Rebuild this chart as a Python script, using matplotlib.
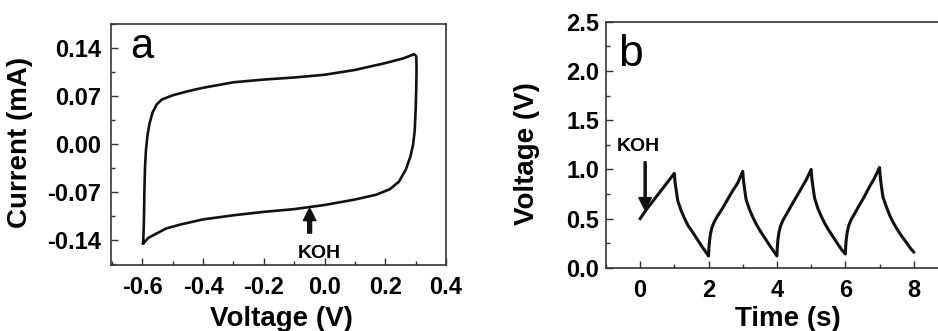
import matplotlib
matplotlib.use("Agg")
import matplotlib.pyplot as plt
from matplotlib.ticker import MultipleLocator

plt.rcParams['font.family'] = ['Liberation Sans', 'DejaVu Sans']

# panel a: cyclic voltammetry loop
cv_voltage = [-0.597, -0.595, -0.594, -0.593, -0.591, -0.588, -0.583, -0.576, -0.566,
              -0.552, -0.535, -0.50, -0.45, -0.40, -0.30, -0.20, -0.10, 0.00, 0.10,
              0.20, 0.26, 0.295, 0.302, 0.303, 0.302, 0.300, 0.297, 0.292, 0.283,
              0.268, 0.245, 0.215, 0.17, 0.10, 0.00, -0.10, -0.20, -0.30, -0.40,
              -0.47, -0.52, -0.555, -0.58, -0.597]
cv_current = [-0.145, -0.12, -0.10, -0.07, -0.035, -0.01, 0.012, 0.03, 0.046,
              0.058, 0.065, 0.071, 0.077, 0.082, 0.090, 0.094, 0.097, 0.101, 0.108,
              0.118, 0.125, 0.131, 0.128, 0.11, 0.08, 0.05, 0.02, 0.00, -0.018,
              -0.037, -0.055, -0.066, -0.074, -0.081, -0.089, -0.095, -0.099, -0.104, -0.110,
              -0.117, -0.123, -0.131, -0.137, -0.145]

# panel b: charge / discharge curve
gcd_time = [0.0, 0.2, 0.4, 0.6, 0.8, 1.0,
            1.02, 1.05, 1.1, 1.2, 1.3, 1.4, 1.5, 1.65, 1.8, 1.9, 2.0,
            2.01, 2.03, 2.06, 2.1, 2.17, 2.27, 2.4, 2.55, 2.7, 2.85, 3.0,
            3.02, 3.05, 3.1, 3.2, 3.3, 3.4, 3.5, 3.65, 3.8, 3.9, 4.0,
            4.01, 4.03, 4.06, 4.1, 4.17, 4.27, 4.4, 4.55, 4.7, 4.85, 5.0,
            5.02, 5.05, 5.1, 5.2, 5.3, 5.4, 5.5, 5.65, 5.8, 5.9, 6.0,
            6.01, 6.03, 6.06, 6.1, 6.17, 6.27, 6.4, 6.55, 6.7, 6.85, 7.0,
            7.02, 7.05, 7.1, 7.2, 7.3, 7.4, 7.5, 7.65, 7.8, 7.9, 8.0]
gcd_voltage = [0.50, 0.60, 0.69, 0.78, 0.87, 0.96,
               0.87, 0.80, 0.68, 0.58, 0.50, 0.43, 0.38, 0.30, 0.22, 0.17, 0.12,
               0.20, 0.28, 0.35, 0.41, 0.47, 0.53, 0.60, 0.69, 0.78, 0.86, 0.98,
               0.89, 0.81, 0.69, 0.59, 0.51, 0.44, 0.38, 0.30, 0.22, 0.17, 0.12,
               0.21, 0.29, 0.36, 0.42, 0.48, 0.54, 0.62, 0.71, 0.80, 0.89, 1.00,
               0.91, 0.83, 0.71, 0.60, 0.52, 0.45, 0.39, 0.31, 0.23, 0.18, 0.14,
               0.22, 0.30, 0.37, 0.43, 0.49, 0.55, 0.63, 0.72, 0.82, 0.91, 1.02,
               0.93, 0.84, 0.72, 0.62, 0.53, 0.46, 0.40, 0.32, 0.25, 0.20, 0.16]

a_xticks = [-0.6, -0.4, -0.2, 0.0, 0.2, 0.4]
a_xticklabels = ['-0.6', '-0.4', '-0.2', '0.0', '0.2', '0.4']
a_yticks = [-0.14, -0.07, 0.0, 0.07, 0.14]
a_yticklabels = ['-0.14', '-0.07', '0.00', '0.07', '0.14']
b_xticks = [0, 2, 4, 6, 8]
b_yticks = [0.0, 0.5, 1.0, 1.5, 2.0, 2.5]
b_yticklabels = ['0.0', '0.5', '1.0', '1.5', '2.0', '2.5']

spine_col = '#333333'
tick_fs = 17
label_fs = 20

fig = plt.figure(figsize=(9.38, 3.31), dpi=100)
ax_a = fig.add_axes([0.1183, 0.1994, 0.3572, 0.728])
ax_b = fig.add_axes([0.646, 0.191, 0.3646, 0.743])


def style_axes(ax):
    for s in ax.spines.values():
        s.set_color(spine_col)
        s.set_linewidth(1.2)
    ax.tick_params(which='both', direction='in', color=spine_col, width=1,
                   labelsize=tick_fs, top=False, right=False)
    ax.tick_params(which='major', length=5)
    ax.tick_params(which='minor', length=3)
    for lab in ax.get_xticklabels() + ax.get_yticklabels():
        lab.set_fontweight('bold')


# ---- panel a
ax_a.plot(cv_voltage, cv_current, color='#111111', lw=1.9)
ax_a.set_xlim(-0.703, 0.4)
ax_a.set_ylim(-0.1765, 0.175)
ax_a.set_xticks(a_xticks)
ax_a.set_xticklabels(a_xticklabels)
ax_a.set_yticks(a_yticks)
ax_a.set_yticklabels(a_yticklabels)
ax_a.xaxis.set_minor_locator(MultipleLocator(0.1))
ax_a.yaxis.set_minor_locator(MultipleLocator(0.035))
style_axes(ax_a)
ax_a.tick_params(axis='x', pad=8)
ax_a.tick_params(axis='y', pad=7)
ax_a.set_xlabel('Voltage (V)', fontsize=label_fs, fontweight='bold')
ax_a.set_ylabel('Current (mA)', fontsize=label_fs, fontweight='bold')
ax_a.xaxis.set_label_coords(0.51, -0.17)
ax_a.yaxis.set_label_coords(-0.233, 0.508)
ax_a.text(0.057, 0.858, 'a', transform=ax_a.transAxes, fontsize=30)
ax_a.annotate('', xy=(-0.049, -0.0935), xytext=(-0.049, -0.130),
              arrowprops=dict(facecolor='#111111', edgecolor='#111111',
                              width=2.8, headwidth=9, headlength=9, shrink=0))
ax_a.text(-0.017, -0.16, 'KOH', ha='center', va='center', fontsize=14,
          fontweight='bold')

# ---- panel b
ax_b.plot(gcd_time, gcd_voltage, color='#111111', lw=2.2)
ax_b.set_xlim(-1, 9)
ax_b.set_ylim(0, 2.5)
ax_b.set_xticks(b_xticks)
ax_b.set_yticks(b_yticks)
ax_b.set_yticklabels(b_yticklabels)
ax_b.xaxis.set_minor_locator(MultipleLocator(1))
ax_b.yaxis.set_minor_locator(MultipleLocator(0.25))
style_axes(ax_b)
ax_b.tick_params(axis='x', pad=8)
ax_b.tick_params(axis='y', pad=5)
ax_b.set_xlabel('Time (s)', fontsize=label_fs, fontweight='bold')
ax_b.set_ylabel('Voltage (V)', fontsize=label_fs, fontweight='bold')
ax_b.xaxis.set_label_coords(0.531, -0.157)
ax_b.yaxis.set_label_coords(-0.193, 0.465)
ax_b.text(0.035, 0.821, 'b', transform=ax_b.transAxes, fontsize=32)
ax_b.annotate('', xy=(0.146, 0.586), xytext=(0.146, 1.077),
              arrowprops=dict(facecolor='#111111', edgecolor='#111111',
                              width=1.5, headwidth=9, headlength=9, shrink=0))
ax_b.text(-0.06, 1.237, 'KOH', ha='center', va='center', fontsize=14,
          fontweight='bold')

fig.savefig('out.png', dpi=100)
